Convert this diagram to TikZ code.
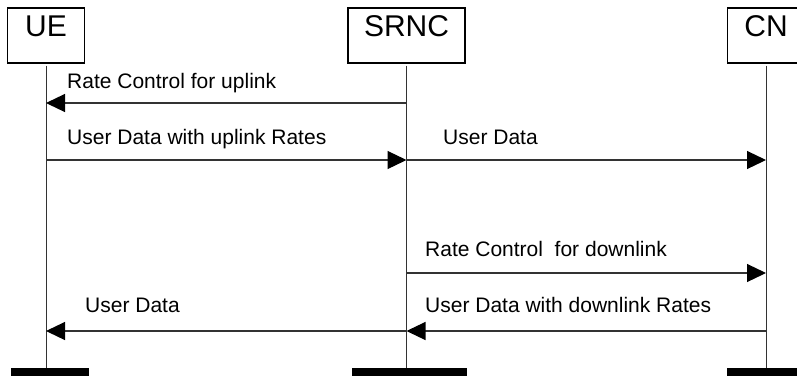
\documentclass[tikz,border=0pt]{standalone}
\usepackage{fontspec}
\setmainfont{Liberation Sans}
\usetikzlibrary{arrows.meta}
\begin{document}
\begin{tikzpicture}[x=1pt,y=-1pt,
  partbox/.style={draw=black, line width=1.2pt, fill=white, inner xsep=0pt, inner ysep=0pt,
     minimum height=55pt, text height=28pt, text depth=27pt,
     font=\fontsize{30}{34}\selectfont},
  lifebar/.style={fill=black, inner sep=0pt, minimum height=8pt},
  lifeline/.style={draw=black!80, line width=0.9pt},
  msg/.style={draw=black!80, line width=1.2pt, -{Triangle[length=19pt,width=18pt,color=black]}},
  lbl/.style={anchor=base west, inner sep=0pt, font=\fontsize{21}{25}\selectfont}]
\useasboundingbox (0,0) rectangle (797,376);
% participants
\node[partbox, minimum width=77pt]  (ue)   at (46,35.5)  {UE};
\node[partbox, minimum width=117pt] (srnc) at (406.5,35.5) {SRNC};
\node[partbox, minimum width=77pt]  (cn)   at (766,35.5) {CN};
% bottom bars
\node[lifebar, minimum width=78pt]  (uebar)   at (50,372)  {};
\node[lifebar, minimum width=115pt] (srncbar) at (409.5,372) {};
\node[lifebar, minimum width=78pt]  (cnbar)   at (766,372) {};
% lifelines
\draw[lifeline] ([yshift=-2pt]ue.south)   -- (ue.south |- uebar.north);
\draw[lifeline] ([yshift=-2pt]srnc.south) -- (srnc.south |- srncbar.north);
\draw[lifeline] ([yshift=-2pt]cn.south)   -- (cn.south |- cnbar.north);
% message anchor points on lifelines
\coordinate (ue1)   at (ue.south |- 0,103);
\coordinate (srnc1) at (srnc.south |- 0,103);
\coordinate (ue2)   at (ue.south |- 0,160);
\coordinate (srnc2) at (srnc.south |- 0,160);
\coordinate (cn2)   at (cn.south |- 0,160);
\coordinate (srnc3) at (srnc.south |- 0,273);
\coordinate (cn3)   at (cn.south |- 0,273);
\coordinate (ue4)   at (ue.south |- 0,331);
\coordinate (srnc4) at (srnc.south |- 0,331);
\coordinate (cn4)   at (cn.south |- 0,331);
% messages
\draw[msg] (srnc1) -- (ue1);
\draw[msg] (ue2) -- (srnc2);
\draw[msg] (srnc2) -- (cn2);
\draw[msg] (srnc3) -- (cn3);
\draw[msg] (cn4) -- (srnc4);
\draw[msg] (srnc4) -- (ue4);
% labels
\node[lbl] (l1) at (67,88)  {Rate Control for uplink};
\node[lbl] (l2) at (67,144) {User Data with uplink Rates};
\node[lbl] (l3) at (443,144) {User Data};
\node[lbl] (l4) at (425,256) {Rate Control\ \ for downlink};
\node[lbl] (l5) at (85,312) {User Data};
\node[lbl] (l6) at (425,312) {User Data with downlink Rates};
\end{tikzpicture}
\end{document}
